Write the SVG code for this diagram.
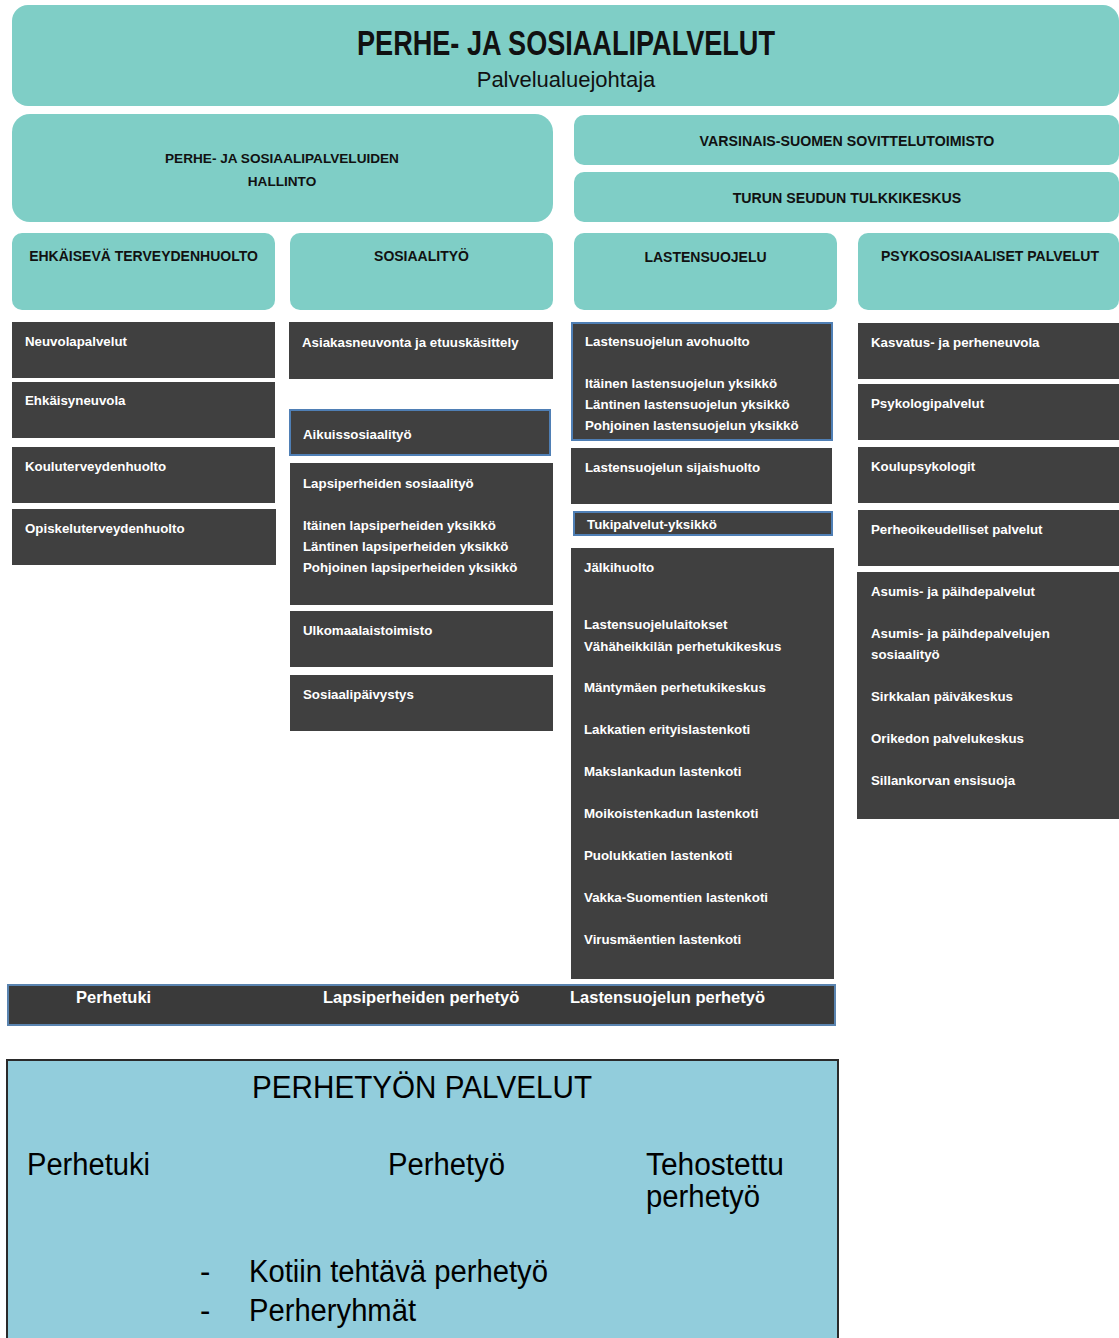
<svg xmlns="http://www.w3.org/2000/svg" width="1119" height="1338" viewBox="0 0 1119 1338">
<style>
.teal{fill:#7fcec6}
.dark{fill:#404040}
.blue{stroke:#4f7fb5;stroke-width:2}
.h{font-family:"Liberation Sans",Arial,sans-serif;font-weight:bold;font-size:14px;fill:#111;text-anchor:middle}
.t{font-family:"Liberation Sans",Arial,sans-serif;font-weight:bold;font-size:13.3px;fill:#fff}
.bt{font-family:"Liberation Sans",Arial,sans-serif;font-weight:bold;font-size:16.5px;fill:#fff}
.p{font-family:"Liberation Sans",Arial,sans-serif;font-size:31px;fill:#000}
</style>
<rect width="1119" height="1338" fill="#fff"/>

<g id="top">
<rect class="teal" x="12" y="5" width="1107" height="101" rx="16"/>
<text x="566" y="55" font-family="'Liberation Sans',Arial,sans-serif" font-weight="bold" font-size="35" fill="#111" text-anchor="middle" textLength="418" lengthAdjust="spacingAndGlyphs">PERHE- JA SOSIAALIPALVELUT</text>
<text x="566" y="87" font-family="'Liberation Sans',Arial,sans-serif" font-size="22" fill="#111" text-anchor="middle">Palvelualuejohtaja</text>
</g>

<g id="hallinto">
<rect class="teal" x="12" y="114" width="541" height="108" rx="18"/>
<text class="h" x="282" y="163" style="font-size:13.6px">PERHE- JA SOSIAALIPALVELUIDEN</text>
<text class="h" x="282" y="186" style="font-size:13.6px">HALLINTO</text>
</g>

<g id="sovittelu">
<rect class="teal" x="574" y="115" width="545" height="50" rx="10"/>
<text class="h" x="847" y="146" style="font-size:14.2px">VARSINAIS-SUOMEN SOVITTELUTOIMISTO</text>
</g>

<g id="tulkki">
<rect class="teal" x="574" y="172" width="545" height="50" rx="10"/>
<text class="h" x="847" y="203" style="font-size:14.2px">TURUN SEUDUN TULKKIKESKUS</text>
</g>

<g id="h-ehk">
<rect class="teal" x="12" y="233" width="263" height="77" rx="10"/>
<text class="h" x="143.5" y="261">EHKÄISEVÄ TERVEYDENHUOLTO</text>
</g>
<g id="h-sos">
<rect class="teal" x="290" y="233" width="263" height="77" rx="10"/>
<text class="h" x="421.5" y="261">SOSIAALITYÖ</text>
</g>
<g id="h-las">
<rect class="teal" x="574" y="233" width="263" height="77" rx="10"/>
<text class="h" x="705.5" y="262">LASTENSUOJELU</text>
</g>
<g id="h-psy">
<rect class="teal" x="858" y="233" width="261" height="77" rx="10"/>
<text class="h" x="990" y="261">PSYKOSOSIAALISET PALVELUT</text>
</g>

<g id="neuvola"><rect class="dark" x="12" y="322" width="263" height="56"/><text class="t" x="25" y="346">Neuvolapalvelut</text></g>
<g id="ehkaisy"><rect class="dark" x="12" y="382" width="263" height="56"/><text class="t" x="25" y="405">Ehkäisyneuvola</text></g>
<g id="koulu"><rect class="dark" x="12" y="447" width="263" height="56"/><text class="t" x="25" y="471">Kouluterveydenhuolto</text></g>
<g id="opiskelu"><rect class="dark" x="12" y="509" width="264" height="56"/><text class="t" x="25" y="533">Opiskeluterveydenhuolto</text></g>

<g id="asiakas"><rect class="dark" x="289" y="322" width="264" height="57"/><text class="t" x="302" y="347">Asiakasneuvonta ja etuuskäsittely</text></g>
<g id="aikuis"><rect class="dark blue" x="290" y="410" width="260" height="45"/><text class="t" x="303" y="439">Aikuissosiaalityö</text></g>
<g id="lapsiperheet"><rect class="dark" x="290" y="463" width="263" height="142"/>
<text class="t" x="303" y="488">Lapsiperheiden sosiaalityö</text>
<text class="t" x="303" y="530">Itäinen lapsiperheiden yksikkö</text>
<text class="t" x="303" y="551">Läntinen lapsiperheiden yksikkö</text>
<text class="t" x="303" y="572">Pohjoinen lapsiperheiden yksikkö</text>
</g>
<g id="ulkomaal"><rect class="dark" x="290" y="611" width="263" height="56"/><text class="t" x="303" y="635">Ulkomaalaistoimisto</text></g>
<g id="paivystys"><rect class="dark" x="290" y="675" width="263" height="56"/><text class="t" x="303" y="699">Sosiaalipäivystys</text></g>

<g id="avohuolto"><rect class="dark blue" x="572" y="323" width="260" height="117"/>
<text class="t" x="585" y="346">Lastensuojelun avohuolto</text>
<text class="t" x="585" y="388">Itäinen lastensuojelun yksikkö</text>
<text class="t" x="585" y="409">Läntinen lastensuojelun yksikkö</text>
<text class="t" x="585" y="430">Pohjoinen lastensuojelun yksikkö</text>
</g>
<g id="sijais"><rect class="dark" x="571" y="448" width="261" height="56"/><text class="t" x="585" y="472">Lastensuojelun sijaishuolto</text></g>
<g id="tuki"><rect class="dark blue" x="574" y="512" width="258" height="23"/><text class="t" x="587" y="529">Tukipalvelut-yksikkö</text></g>
<g id="jalkihuolto"><rect class="dark" x="571" y="548" width="263" height="431"/>
<text class="t" x="584" y="572">Jälkihuolto</text>
<text class="t" x="584" y="629">Lastensuojelulaitokset</text>
<text class="t" x="584" y="651">Vähäheikkilän perhetukikeskus</text>
<text class="t" x="584" y="692">Mäntymäen perhetukikeskus</text>
<text class="t" x="584" y="734">Lakkatien erityislastenkoti</text>
<text class="t" x="584" y="776">Makslankadun lastenkoti</text>
<text class="t" x="584" y="818">Moikoistenkadun lastenkoti</text>
<text class="t" x="584" y="860">Puolukkatien lastenkoti</text>
<text class="t" x="584" y="902">Vakka-Suomentien lastenkoti</text>
<text class="t" x="584" y="944">Virusmäentien lastenkoti</text>
</g>

<g id="kasvatus"><rect class="dark" x="858" y="323" width="261" height="56"/><text class="t" x="871" y="347">Kasvatus- ja perheneuvola</text></g>
<g id="psykologi"><rect class="dark" x="858" y="384" width="261" height="56"/><text class="t" x="871" y="408">Psykologipalvelut</text></g>
<g id="koulupsyk"><rect class="dark" x="858" y="447" width="261" height="56"/><text class="t" x="871" y="471">Koulupsykologit</text></g>
<g id="perheoik"><rect class="dark" x="858" y="510" width="261" height="56"/><text class="t" x="871" y="534">Perheoikeudelliset palvelut</text></g>
<g id="asumis"><rect class="dark" x="857" y="572" width="262" height="247"/>
<text class="t" x="871" y="596">Asumis- ja päihdepalvelut</text>
<text class="t" x="871" y="638">Asumis- ja päihdepalvelujen</text>
<text class="t" x="871" y="659">sosiaalityö</text>
<text class="t" x="871" y="701">Sirkkalan päiväkeskus</text>
<text class="t" x="871" y="743">Orikedon palvelukeskus</text>
<text class="t" x="871" y="785">Sillankorvan ensisuoja</text>
</g>

<g id="perhetyo-bar">
<rect x="8" y="985" width="827" height="40" fill="#3a3a3a" stroke="#5a84b0" stroke-width="2"/>
<text class="bt" x="76" y="1003">Perhetuki</text>
<text class="bt" x="323" y="1003">Lapsiperheiden perhetyö</text>
<text class="bt" x="570" y="1003" textLength="195" lengthAdjust="spacingAndGlyphs">Lastensuojelun perhetyö</text>
</g>

<g id="perhetyon-palvelut">
<rect x="7" y="1060" width="831" height="290" fill="#92cddc" stroke="#2a2a2a" stroke-width="2"/>
<text class="p" x="252" y="1098" textLength="340" lengthAdjust="spacingAndGlyphs">PERHETYÖN PALVELUT</text>
<text class="p" x="27" y="1175" textLength="123" lengthAdjust="spacingAndGlyphs">Perhetuki</text>
<text class="p" x="388" y="1175" textLength="117" lengthAdjust="spacingAndGlyphs">Perhetyö</text>
<text class="p" x="646" y="1175" textLength="138" lengthAdjust="spacingAndGlyphs">Tehostettu</text>
<text class="p" x="646" y="1207" textLength="114" lengthAdjust="spacingAndGlyphs">perhetyö</text>
<text class="p" x="200" y="1282">-</text>
<text class="p" x="249" y="1282" textLength="299" lengthAdjust="spacingAndGlyphs">Kotiin tehtävä perhetyö</text>
<text class="p" x="200" y="1321">-</text>
<text class="p" x="249" y="1321" textLength="167" lengthAdjust="spacingAndGlyphs">Perheryhmät</text>
</g>

<g id="connectors"/>
</svg>
